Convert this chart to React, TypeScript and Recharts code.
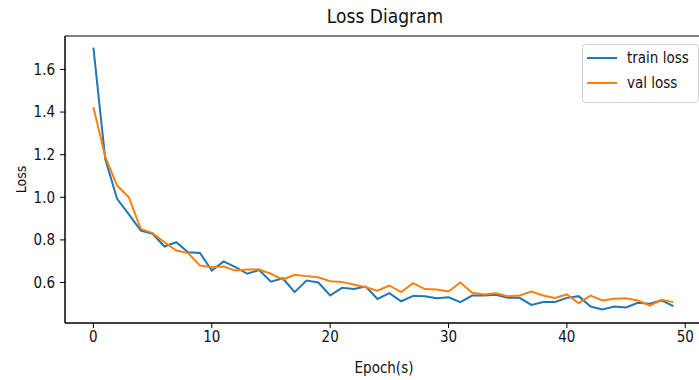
import { LineChart, Line, XAxis, YAxis, Legend, ReferenceArea } from 'recharts'

const FONT = '"DejaVu Sans Condensed", "DejaVu Sans", sans-serif'
const BLUE = '#1f77b4'
const ORANGE = '#ff7f0e'

const epochs = [
  0, 1, 2, 3, 4, 5, 6, 7, 8, 9, 10, 11, 12, 13, 14, 15, 16, 17, 18, 19, 20, 21, 22, 23, 24,
  25, 26, 27, 28, 29, 30, 31, 32, 33, 34, 35, 36, 37, 38, 39, 40, 41, 42, 43, 44, 45, 46, 47, 48, 49,
]

const trainLoss = [
  1.702, 1.18, 0.993, 0.92, 0.844, 0.829, 0.769, 0.789, 0.742, 0.739,
  0.656, 0.699, 0.672, 0.641, 0.659, 0.604, 0.62, 0.555, 0.609, 0.6,
  0.539, 0.575, 0.57, 0.581, 0.523, 0.55, 0.512, 0.537, 0.536, 0.526,
  0.531, 0.508, 0.539, 0.539, 0.542, 0.528, 0.528, 0.495, 0.508, 0.509,
  0.528, 0.536, 0.487, 0.473, 0.487, 0.483, 0.505, 0.5, 0.516, 0.489,
]

const valLoss = [
  1.423, 1.19, 1.055, 1.0, 0.852, 0.832, 0.789, 0.75, 0.738, 0.68,
  0.672, 0.675, 0.656, 0.661, 0.661, 0.641, 0.614, 0.636, 0.63, 0.625,
  0.606, 0.603, 0.591, 0.578, 0.562, 0.586, 0.555, 0.597, 0.569, 0.567,
  0.558, 0.6, 0.552, 0.544, 0.55, 0.536, 0.539, 0.558, 0.539, 0.528,
  0.544, 0.503, 0.539, 0.516, 0.524, 0.526, 0.516, 0.492, 0.519, 0.508,
]

const xTicks = [0, 10, 20, 30, 40, 50]
const yTicks = [0.6, 0.8, 1.0, 1.2, 1.4, 1.6]

const data = epochs.map((e, i) => ({ epoch: e, train: trainLoss[i], val: valLoss[i] }))

const X_DOMAIN: [number, number] = [-2.4, 51.5]
const Y_DOMAIN: [number, number] = [0.41, 1.757]

const tickStyle = { fontSize: 15, fill: '#111', fontFamily: FONT }

// matplotlib-style legend box
function LegendBox() {
  return (
    <svg width={117} height={59}>
      <rect x={0.5} y={0.5} width={116} height={58} rx={3} fill="rgba(255,255,255,0.8)" stroke="#d0d0d0" />
      <line x1={5} x2={35} y1={14} y2={14} stroke={BLUE} strokeWidth={2} />
      <text x={45} y={19} fontSize={15} fontFamily={FONT} fill="#111">train loss</text>
      <line x1={5} x2={35} y1={39} y2={39} stroke={ORANGE} strokeWidth={2} />
      <text x={45} y={44} fontSize={15} fontFamily={FONT} fill="#111">val loss</text>
    </svg>
  )
}

export default function App() {
  return (
    <div style={{ position: 'fixed', left: 0, top: 0, width: 699, height: 380, overflow: 'hidden', background: '#fff' }}>
      <div
        style={{
          position: 'absolute', left: 235, width: 300, top: 5, textAlign: 'center',
          fontFamily: FONT, fontSize: 19, lineHeight: '22px', color: '#111',
        }}
      >
        Loss Diagram
      </div>
      <LineChart width={720} height={380} data={data} margin={{ top: 36, right: 17, bottom: 0, left: 0 }}>
        <XAxis
          dataKey="epoch"
          type="number"
          domain={X_DOMAIN}
          ticks={xTicks}
          allowDataOverflow
          height={57}
          tick={tickStyle}
          tickSize={5}
          tickMargin={3}
          axisLine={{ stroke: '#000' }}
          tickLine={{ stroke: '#000' }}
          label={{ value: 'Epoch(s)', position: 'insideBottom', offset: 7, fontSize: 15, fill: '#111', fontFamily: FONT }}
        />
        <YAxis
          type="number"
          domain={Y_DOMAIN}
          ticks={yTicks}
          allowDataOverflow
          width={65}
          tick={tickStyle}
          tickSize={5}
          tickMargin={5}
          tickFormatter={(v: number) => v.toFixed(1)}
          axisLine={{ stroke: '#000' }}
          tickLine={{ stroke: '#000' }}
          label={{ value: 'Loss', angle: -90, position: 'insideLeft', offset: 21, fontSize: 14, fill: '#111', fontFamily: FONT, style: { textAnchor: 'middle' } }}
        />
        {/* frame around the plot area */}
        <ReferenceArea
          x1={X_DOMAIN[0]}
          x2={X_DOMAIN[1]}
          y1={Y_DOMAIN[0]}
          y2={Y_DOMAIN[1]}
          fill="none"
          fillOpacity={0}
          stroke="#000"
          strokeWidth={1}
          ifOverflow="visible"
        />
        <Legend
          layout="vertical"
          align="center"
          verticalAlign="middle"
          content={() => <LegendBox />}
          wrapperStyle={{ left: 582, top: 44, width: 117, height: 59 }}
        />
        <Line dataKey="train" name="train loss" stroke={BLUE} strokeWidth={2} dot={false} isAnimationActive={false} />
        <Line dataKey="val" name="val loss" stroke={ORANGE} strokeWidth={2} dot={false} isAnimationActive={false} />
      </LineChart>
    </div>
  )
}
